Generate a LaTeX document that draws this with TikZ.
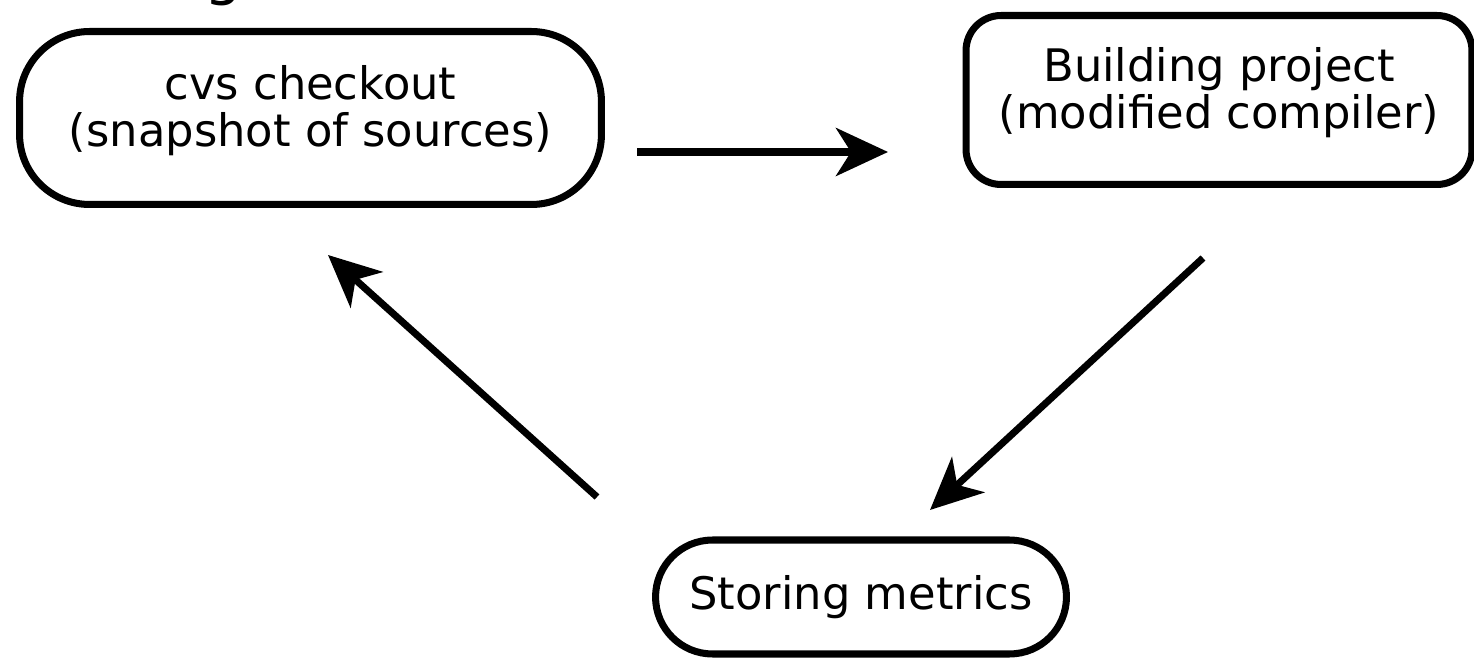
\documentclass[tikz,border=0pt]{standalone}
\usepackage{fontspec}
\setmainfont{DejaVu Sans}
\usepackage{tikz}
\usetikzlibrary{arrows.meta}

\begin{document}
\begin{tikzpicture}[x=0.02cm, y=-0.02cm,
    stage/.style={draw, line width=4pt, align=center, inner sep=0pt,
        font=\fontsize{25.5}{26.5}\selectfont},
    twoline/.style={text height=1.34cm, text depth=0.2cm},
    flow/.style={line width=4pt, -{Stealth[length=1.04cm, width=0.96cm, inset=0.3cm]}}]
            \useasboundingbox (0,0) rectangle (1474,658);
            \clip (0,0) rectangle (1474,658);
            % cut off title above the picture
            \node[anchor=base, font=\fontsize{34}{36}\selectfont] (title) at (223,-6) {g};
            \node[stage, twoline, minimum width=11.64cm, minimum height=3.46cm, rounded corners=1.4cm] (cvs) at (310.5,118)
                {cvs checkout\\(snapshot of sources)};
            \node[stage, twoline, minimum width=10.12cm, minimum height=3.38cm, rounded corners=0.7cm] (build) at (1219,100)
                {Building project\\(modified compiler)};
            \node[stage, minimum width=8.22cm, minimum height=2.28cm, rounded corners=1.14cm] (store) at (861,597)
                {Storing metrics};
            % arrow ends
            \coordinate (cvs-out) at (637,152);
            \coordinate (build-in) at (888,152);
            \coordinate (build-out) at (1203,258);
            \coordinate (store-in) at (930,510);
            \coordinate (store-out) at (597,497);
            \coordinate (cvs-in) at (328,255);
            \draw[flow] (cvs-out) -- (build-in);
            \draw[flow] (build-out) -- (store-in);
            \draw[flow] (store-out) -- (cvs-in);
        \end{tikzpicture}
\end{document}
